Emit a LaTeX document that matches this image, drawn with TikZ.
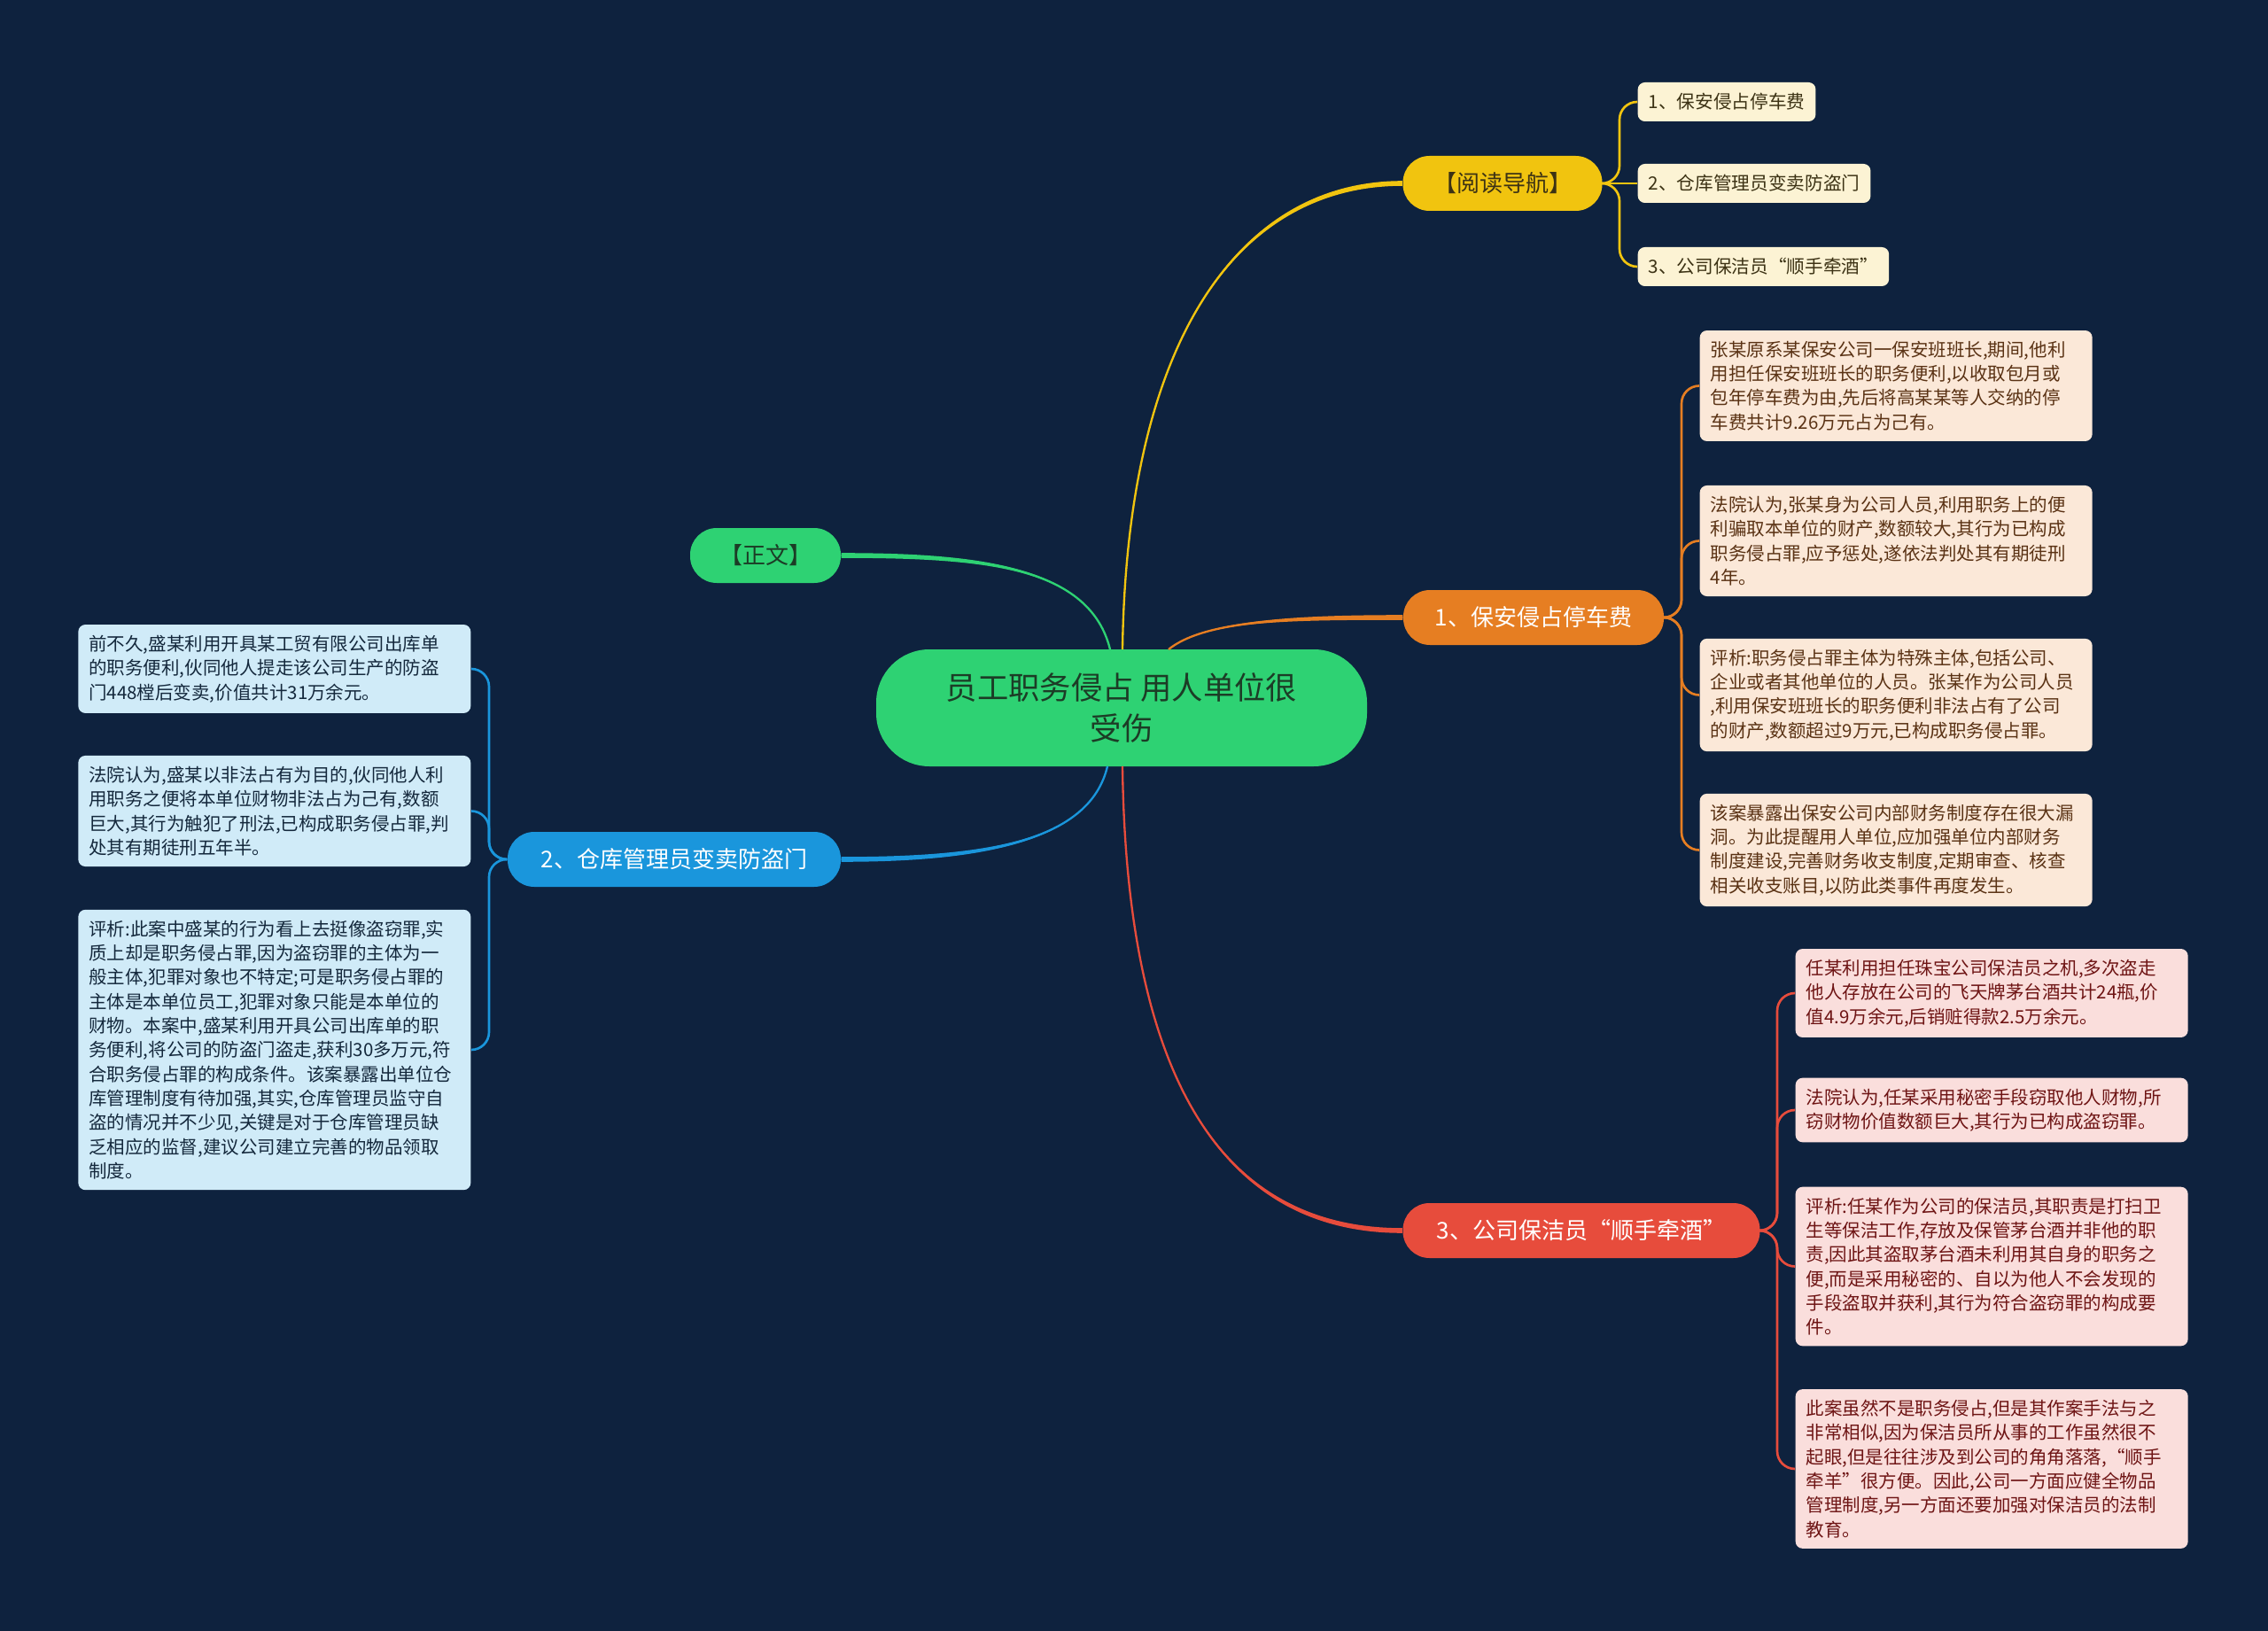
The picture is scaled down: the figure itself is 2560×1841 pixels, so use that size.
\documentclass[tikz,border=0pt]{standalone}
\usepackage{fontspec}
\setmainfont{Noto Sans CJK SC}
\usetikzlibrary{calc}
\definecolor{bg}{RGB}{14,34,62}
\definecolor{cgreen}{RGB}{46,210,115}
\definecolor{cgreentext}{RGB}{28,60,38}
\definecolor{cyellow}{RGB}{241,196,15}
\definecolor{corange}{RGB}{230,126,34}
\definecolor{cblue}{RGB}{26,150,220}
\definecolor{cred}{RGB}{231,76,60}
\definecolor{navfill}{RGB}{252,243,212}
\definecolor{navtext}{RGB}{60,50,20}
\definecolor{orfill}{RGB}{251,232,216}
\definecolor{ortext}{RGB}{90,50,20}
\definecolor{blfill}{RGB}{208,235,248}
\definecolor{bltext}{RGB}{20,40,60}
\definecolor{rdfill}{RGB}{250,222,220}
\definecolor{rdtext}{RGB}{110,20,20}
\tikzset{
  branchbox/.style={rounded corners=9pt, minimum height=18.6pt, inner sep=0pt,
    font=\fontsize{7.8}{9}\selectfont},
  leafbox/.style={rounded corners=2.4pt, inner xsep=3.6pt, inner ysep=3.6pt,
    text width=125.7pt, align=left, font=\fontsize{6.15}{8.2}\selectfont},
  navbox/.style={rounded corners=2.4pt, inner xsep=3.6pt, inner ysep=0pt,
    minimum height=13.2pt, fill=navfill, text=navtext,
    font=\fontsize{6.2}{8}\selectfont},
  leafline/.style={line width=0.8pt, rounded corners=6pt},
}
% tapered connector: colour, start, control 1, control 2, end
\newcommand\mytaper[5]{%
  \fill[#1] (#2) .. controls (#3) and ($(#4)+(0,-2.8)$) .. ($(#5)+(0,-2.8)$)
     -- ($(#5)+(0,2.8)$) .. controls ($(#4)+(0,2.8)$) and (#3) .. (#2) -- cycle;
  \draw[#1, line width=0.7pt] (#2) .. controls (#3) and (#4) .. (#5);}
\begin{document}
\begin{tikzpicture}[x=0.3pt,y=-0.3pt]
\fill[bg] (0,0) rectangle (2560,1841);
\useasboundingbox (0,0) rectangle (2560,1841);

% root
\node[fill=cgreen, rounded corners=18pt, minimum width=166.2pt, minimum height=39.6pt,
  align=center, text=cgreentext, font=\fontsize{10.6}{14.1}\selectfont, inner sep=0pt]
  (root) at (1266,799) {员工职务侵占 用人单位很\\受伤};

% branches
\node[branchbox, fill=cyellow, text=navtext, minimum width=67.5pt] (nav) at (1696,207) {【阅读导航】};
\node[branchbox, fill=cgreen, text=cgreentext, minimum width=51pt] (zw) at (864,627) {【正文】};
\node[branchbox, fill=corange, text=white, minimum width=88.2pt] (b1) at (1731,697) {1、保安侵占停车费};
\node[branchbox, fill=cblue, text=white, minimum width=112.8pt] (b2) at (761,970) {2、仓库管理员变卖防盗门};
\node[branchbox, fill=cred, text=white, minimum width=120.9pt] (b3) at (1785,1389) {3、公司保洁员“顺手牵酒”};

\coordinate (rootT1) at (1253,733);
\coordinate (rootT2) at (1267,733);
\coordinate (rootT3) at (1319,733);
\coordinate (rootB1) at (1250,865);
\coordinate (rootB2) at (1267,865);

% main connectors (tapered)
\mytaper{cyellow}{rootT2}{1272,380}{1400,207}{nav.west}
\mytaper{cgreen}{rootT1}{1230,640}{1110,627}{zw.east}
\mytaper{corange}{rootT3}{1360,700}{1460,697}{b1.west}
\mytaper{cblue}{rootB1}{1230,950}{1110,970}{b2.east}
\mytaper{cred}{rootB2}{1272,1250}{1400,1389}{b3.west}

% nav leaves
\node[navbox, anchor=west] (n1) at (1848,115) {1、保安侵占停车费};
\node[navbox, anchor=west] (n2) at (1848,207) {2、仓库管理员变卖防盗门};
\node[navbox, anchor=west] (n3) at (1848,301) {3、公司保洁员“顺手牵酒”};
\draw[leafline, cyellow] (nav.east) -- (1828,207) -- (1828,115) -- (n1.west);
\draw[leafline, cyellow] (nav.east) -- (n2.west);
\draw[leafline, cyellow] (nav.east) -- (1828,207) -- (1828,301) -- (n3.west);

% orange leaves
\node[leafbox, fill=orfill, text=ortext, anchor=west] (o1) at (1918,435.5) {张某原系某保安公司一保安班班长,期间,他利\\用担任保安班班长的职务便利,以收取包月或\\包年停车费为由,先后将高某某等人交纳的停\\车费共计9.26万元占为己有。};
\node[leafbox, fill=orfill, text=ortext, anchor=west] (o2) at (1918,610.5) {法院认为,张某身为公司人员,利用职务上的便\\利骗取本单位的财产,数额较大,其行为已构成\\职务侵占罪,应予惩处,遂依法判处其有期徒刑\\4年。};
\node[leafbox, fill=orfill, text=ortext, anchor=west] (o3) at (1918,784.5) {评析:职务侵占罪主体为特殊主体,包括公司、\\企业或者其他单位的人员。张某作为公司人员\\,利用保安班班长的职务便利非法占有了公司\\的财产,数额超过9万元,已构成职务侵占罪。};
\node[leafbox, fill=orfill, text=ortext, anchor=west] (o4) at (1918,959.5) {该案暴露出保安公司内部财务制度存在很大漏\\洞。为此提醒用人单位,应加强单位内部财务\\制度建设,完善财务收支制度,定期审查、核查\\相关收支账目,以防此类事件再度发生。};
\foreach \n/\y in {o1/435.5,o2/610.5,o3/784.5,o4/959.5}
  \draw[leafline, corange] (b1.east) -- (1898,697) -- (1898,\y) -- (\n.west);

% blue leaves
\node[leafbox, fill=blfill, text=bltext, anchor=east] (l1) at (532,755) {前不久,盛某利用开具某工贸有限公司出库单\\的职务便利,伙同他人提走该公司生产的防盗\\门448樘后变卖,价值共计31万余元。};
\node[leafbox, fill=blfill, text=bltext, anchor=east] (l2) at (532,915.5) {法院认为,盛某以非法占有为目的,伙同他人利\\用职务之便将本单位财物非法占为己有,数额\\巨大,其行为触犯了刑法,已构成职务侵占罪,判\\处其有期徒刑五年半。};
\node[leafbox, fill=blfill, text=bltext, anchor=east] (l3) at (532,1185) {评析:此案中盛某的行为看上去挺像盗窃罪,实\\质上却是职务侵占罪,因为盗窃罪的主体为一\\般主体,犯罪对象也不特定;可是职务侵占罪的\\主体是本单位员工,犯罪对象只能是本单位的\\财物。本案中,盛某利用开具公司出库单的职\\务便利,将公司的防盗门盗走,获利30多万元,符\\合职务侵占罪的构成条件。该案暴露出单位仓\\库管理制度有待加强,其实,仓库管理员监守自\\盗的情况并不少见,关键是对于仓库管理员缺\\乏相应的监督,建议公司建立完善的物品领取\\制度。};
\foreach \n/\y in {l1/755,l2/915.5,l3/1185}
  \draw[leafline, cblue] (b2.west) -- (552,970) -- (552,\y) -- (\n.east);

% red leaves
\node[leafbox, fill=rdfill, text=rdtext, anchor=west] (r1) at (2026,1121) {任某利用担任珠宝公司保洁员之机,多次盗走\\他人存放在公司的飞天牌茅台酒共计24瓶,价\\值4.9万余元,后销赃得款2.5万余元。};
\node[leafbox, fill=rdfill, text=rdtext, anchor=west] (r2) at (2026,1253) {法院认为,任某采用秘密手段窃取他人财物,所\\窃财物价值数额巨大,其行为已构成盗窃罪。};
\node[leafbox, fill=rdfill, text=rdtext, anchor=west] (r3) at (2026,1429.5) {评析:任某作为公司的保洁员,其职责是打扫卫\\生等保洁工作,存放及保管茅台酒并非他的职\\责,因此其盗取茅台酒未利用其自身的职务之\\便,而是采用秘密的、自以为他人不会发现的\\手段盗取并获利,其行为符合盗窃罪的构成要\\件。};
\node[leafbox, fill=rdfill, text=rdtext, anchor=west] (r4) at (2026,1658) {此案虽然不是职务侵占,但是其作案手法与之\\非常相似,因为保洁员所从事的工作虽然很不\\起眼,但是往往涉及到公司的角角落落,“顺手\\牵羊”很方便。因此,公司一方面应健全物品\\管理制度,另一方面还要加强对保洁员的法制\\教育。};
\foreach \n/\y in {r1/1121,r2/1253,r3/1429.5,r4/1658}
  \draw[leafline, cred] (b3.east) -- (2006,1389) -- (2006,\y) -- (\n.west);
\end{tikzpicture}
\end{document}
